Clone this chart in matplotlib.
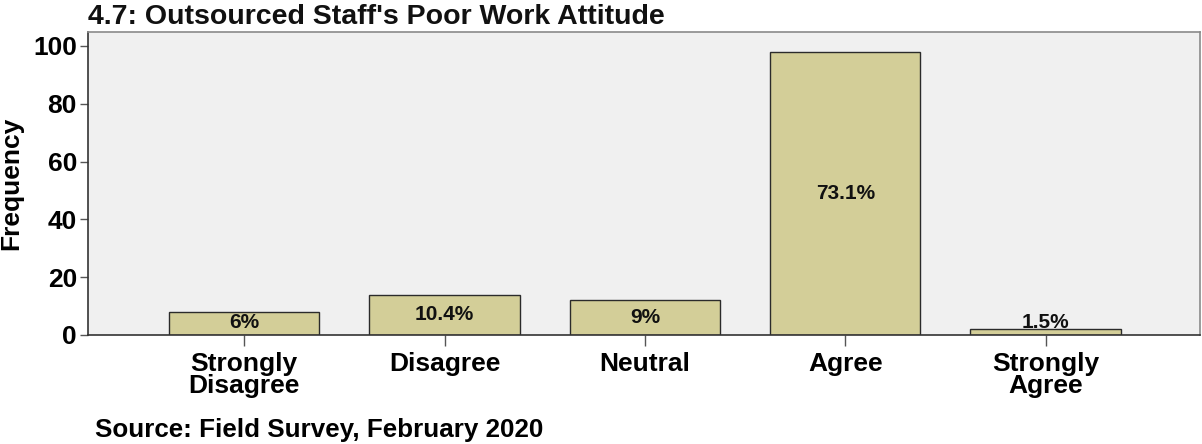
import numpy as np
import matplotlib.pyplot as plt

plt.rcParams["font.family"] = ["Liberation Sans", "DejaVu Sans"]

# survey responses
categories = ["Strongly\nDisagree", "Disagree", "Neutral", "Agree", "Strongly\nAgree"]
counts = [8, 14, 12, 98, 2]
percent_labels = ["6%", "10.4%", "9%", "73.1%", "1.5%"]

bar_color = "#d3ce98"
bg_color = "#f0f0f0"

fig = plt.figure(figsize=(12.02, 4.44), dpi=100)
ax = fig.add_axes([0.0732, 0.2455, 0.925, 0.6825])
ax.set_facecolor(bg_color)

x = np.arange(len(categories))
ax.bar(x, counts, width=0.75, color=bar_color, edgecolor="#2b2b2b", linewidth=1.0, zorder=2)

# percentage labels inside the bars
for xi, v, lab in zip(x, counts, percent_labels):
    ax.text(xi, max(v / 2, 4.3), lab, ha="center", va="center",
            fontsize=15, fontweight="bold", color="#111111", zorder=3)

ax.set_xlim(-0.78, 4.77)
ax.set_ylim(0, 104.8)
ax.set_yticks([0, 20, 40, 60, 80, 100])
ax.set_xticks(x)
ax.set_xticklabels(categories, fontsize=19, fontweight="bold", linespacing=0.92)
ax.tick_params(axis="y", labelsize=19, width=1, length=6, color="#555555", pad=2)
for t in ax.get_yticklabels():
    t.set_fontweight("bold")
ax.tick_params(axis="x", width=1, length=8, color="#555555", pad=4)

ax.set_ylabel("Frequency", fontsize=19, fontweight="bold", labelpad=7)

for side in ["left", "bottom"]:
    ax.spines[side].set_color("#333333")
    ax.spines[side].set_linewidth(1.2)
for side in ["top", "right"]:
    ax.spines[side].set_color("#8a8a8a")
    ax.spines[side].set_linewidth(1.2)

fig.text(0.0732, 0.992, "4.7: Outsourced Staff's Poor Work Attitude",
         ha="left", va="top", fontsize=20.5, fontweight="bold", color="#111111")
fig.text(0.079, 0.032, "Source: Field Survey, February 2020",
         ha="left", va="center", fontsize=18.7, fontweight="bold")

fig.savefig("out.png", dpi=100)
